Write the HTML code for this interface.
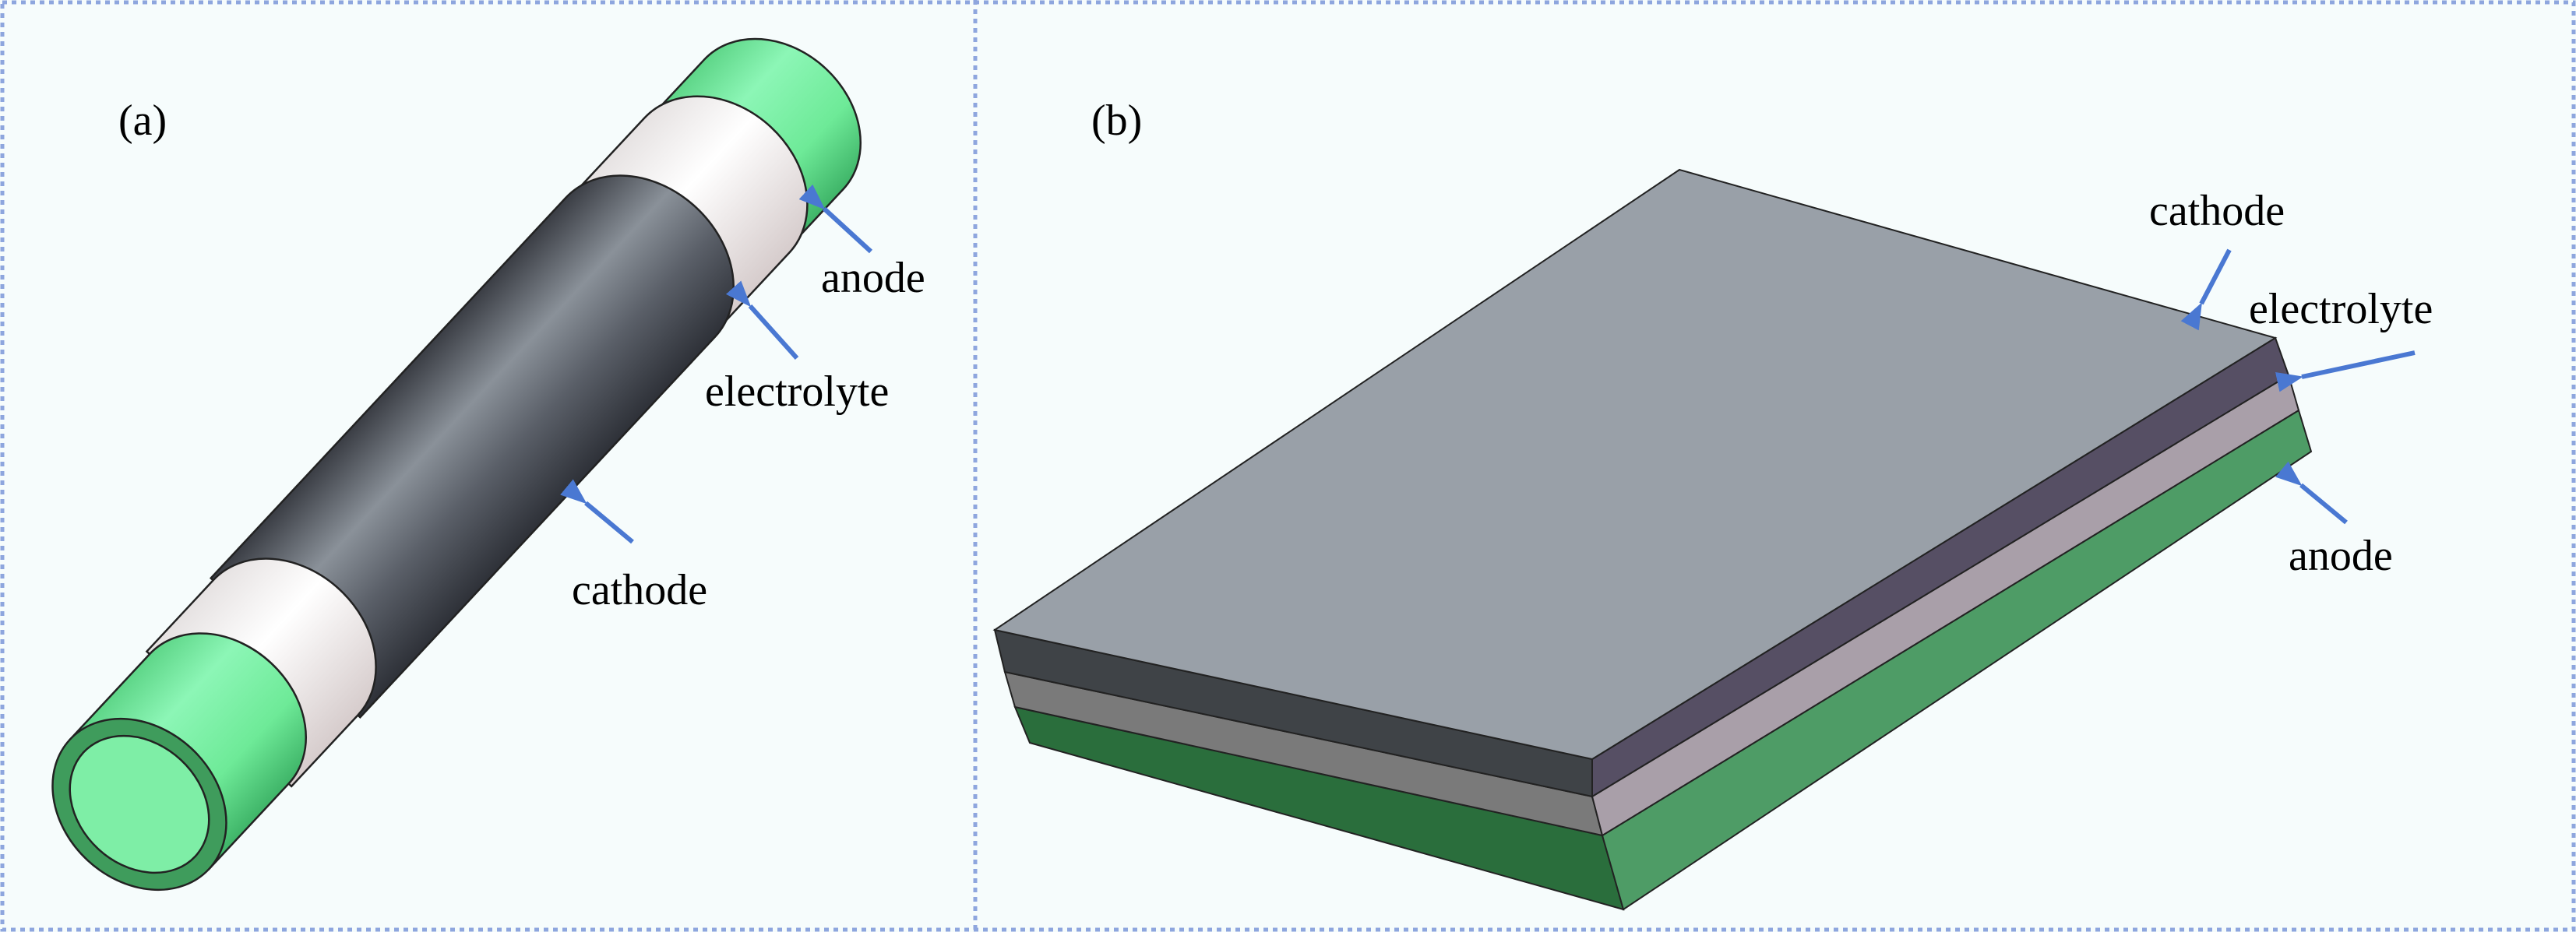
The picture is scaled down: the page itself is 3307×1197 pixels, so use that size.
<!DOCTYPE html>
<html><head><meta charset="utf-8"><style>
html,body{margin:0;padding:0;background:#f6fcfc;}
svg{display:block}
text{font-family:"Liberation Serif",serif;font-size:56px;fill:#000}
</style></head><body>
<svg width="3307" height="1197" viewBox="0 0 3307 1197" xmlns="http://www.w3.org/2000/svg">
<defs>
<marker id="ah" markerWidth="34" markerHeight="26" refX="2" refY="13" orient="auto" markerUnits="userSpaceOnUse" viewBox="0 0 34 26">
<path d="M34,0 L0,13 L34,26 Z" fill="#4a78d2"/></marker>
<linearGradient id="gG" gradientUnits="userSpaceOnUse" x1="0" y1="-125" x2="0" y2="125">
<stop offset="0" stop-color="#5cd486"/><stop offset="0.3" stop-color="#8cf6b6"/><stop offset="0.7" stop-color="#6eea98"/><stop offset="1" stop-color="#3db266"/></linearGradient>
<linearGradient id="gW" gradientUnits="userSpaceOnUse" x1="0" y1="-127" x2="0" y2="127">
<stop offset="0" stop-color="#e6e2e2"/><stop offset="0.4" stop-color="#ffffff"/><stop offset="1" stop-color="#d6cccc"/></linearGradient>
<linearGradient id="gD" gradientUnits="userSpaceOnUse" x1="0" y1="-131" x2="0" y2="131">
<stop offset="0" stop-color="#3a3d44"/><stop offset="0.35" stop-color="#8a9199"/><stop offset="0.65" stop-color="#5a5f68"/><stop offset="1" stop-color="#2e3138"/></linearGradient>
</defs>
<rect x="0" y="0" width="3307" height="1197" fill="#f6fcfc"/>
<rect x="3" y="3" width="3301" height="1191" fill="none" stroke="#8ea6de" stroke-width="5" stroke-dasharray="6,6"/>
<line x1="1252" y1="0" x2="1252" y2="1197" stroke="#8ea6de" stroke-width="5" stroke-dasharray="6,6"/>

<g transform="translate(179,1033) rotate(-47)" stroke="#222" stroke-width="2.5">
<path d="M1087,-122 L1194,-122 A98,122 0 0 1 1194,122 L1087,122 Z" fill="url(#gG)"/>
<path d="M943,-127 L1087,-127 A102,127 0 0 1 1087,127 L943,127 Z" fill="url(#gW)"/>
<path d="M275,-131 L943,-131 A105,131 0 0 1 943,131 L275,131 Z" fill="url(#gD)"/>
<path d="M150,-127 L275,-127 A102,127 0 0 1 275,127 L150,127 Z" fill="url(#gW)"/>
<path d="M0,-122 L150,-122 A98,122 0 0 1 150,122 L0,122 Z" fill="url(#gG)"/>
<ellipse cx="0" cy="0" rx="98" ry="122" fill="#3f9c5c"/>
<ellipse cx="0" cy="0" rx="78" ry="98" fill="#7eeea6"/>
</g>
<text x="152" y="173">(a)</text>
<text x="1054" y="375">anode</text>
<text x="905" y="521">electrolyte</text>
<text x="734" y="776">cathode</text>
<g stroke="#4a78d2" stroke-width="6" fill="none">
<line x1="1118" y1="323" x2="1058" y2="268" marker-end="url(#ah)"/>
<line x1="1023" y1="460" x2="963" y2="393" marker-end="url(#ah)"/>
<line x1="812" y1="696" x2="752" y2="646" marker-end="url(#ah)"/>
</g>

<g stroke="#222" stroke-width="2">
<polygon points="1303,908 2057,1073 2084,1168 1322,954" fill="#2a6e3c"/>
<polygon points="2057,1073 2951,527 2967,580 2084,1168" fill="#4e9c66"/>
<polygon points="1290,863 2044,1023 2057,1073 1303,908" fill="#7a7a7a"/>
<polygon points="2044,1023 2938,482 2951,527 2057,1073" fill="#a99fa9"/>
<polygon points="1277,809 2044,975 2044,1023 1290,863" fill="#3f4347"/>
<polygon points="2044,975 2921,434 2938,482 2044,1023" fill="#564f64"/>
<polygon points="2156,218 2921,434 2044,975 1277,809" fill="#99a0a8"/>
</g>
<text x="1401" y="173">(b)</text>
<text x="2759" y="289">cathode</text>
<text x="2887" y="415">electrolyte</text>
<text x="2938" y="732">anode</text>
<g stroke="#4a78d2" stroke-width="6" fill="none">
<line x1="2862" y1="321" x2="2826" y2="390" marker-end="url(#ah)"/>
<line x1="3100" y1="453" x2="2955" y2="484" marker-end="url(#ah)"/>
<line x1="3012" y1="671" x2="2954" y2="623" marker-end="url(#ah)"/>
</g>
</svg>
</body></html>
